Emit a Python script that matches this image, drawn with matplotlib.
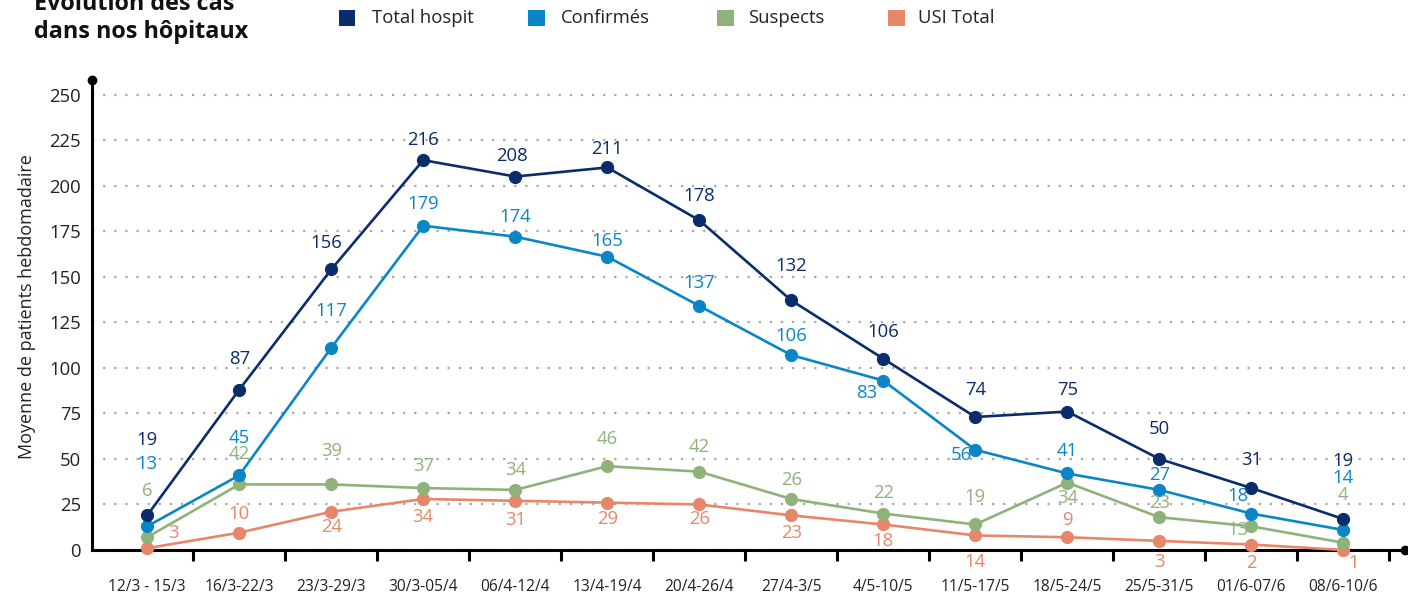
import matplotlib
matplotlib.use("Agg")
import matplotlib.pyplot as plt
from matplotlib.patches import Rectangle

plt.rcParams['font.family'] = ['Open Sans', 'DejaVu Sans']

weeks = ["12/3 - 15/3", "16/3-22/3", "23/3-29/3", "30/3-05/4", "06/4-12/4",
         "13/4-19/4", "20/4-26/4", "27/4-3/5", "4/5-10/5", "11/5-17/5",
         "18/5-24/5", "25/5-31/5", "01/6-07/6", "08/6-10/6"]

# plotted point heights (as drawn in the chart)
total_pts = [19, 88, 154, 214, 205, 210, 181, 137, 105, 73, 76, 50, 34, 17]
conf_pts = [13, 41, 111, 178, 172, 161, 134, 107, 93, 55, 42, 33, 20, 11]
susp_pts = [7, 36, 36, 34, 33, 46, 43, 28, 20, 14, 37, 18, 13, 4]
usi_pts = [1, 9.5, 21, 28, 27, 26, 25, 19, 14, 8, 7, 5, 3, 0]

# printed value labels
total_lbl = [19, 87, 156, 216, 208, 211, 178, 132, 106, 74, 75, 50, 31, 19]
conf_lbl = [13, 45, 117, 179, 174, 165, 137, 106, 83, 56, 41, 27, 18, 14]
susp_lbl = [6, 42, 39, 37, 34, 46, 42, 26, 22, 19, 34, 23, 13, 4]
usi_lbl = [3, 10, 24, 34, 31, 29, 26, 23, 18, 14, 9, 3, 2, 1]

# label offsets in pixels (label placement only)
total_off = [(0, 75), (0, 31), (-5, 26), (0, 20), (-3, 21), (0, 18), (0, 24),
             (0, 34), (0, 27), (0, 27), (0, 22), (0, 30), (0, 28), (0, 58)]
conf_off = [(0, 62), (0, 37), (0, 37), (0, 22), (0, 20), (0, 16), (0, 23),
            (0, 19), (-17, -12), (-14, -5), (0, 22), (0, 15), (-13, 18), (0, 52)]
susp_off = [(0, 46), (0, 30), (0, 33), (0, 22), (0, 20), (0, 27), (0, 25),
            (0, 19), (0, 21), (0, 27), (0, -15), (0, 14), (-13, -4), (0, 48)]
usi_off = [(26, 15), (0, 19), (0, -15), (0, -18), (0, -19), (0, -16), (0, -15),
           (0, -18), (0, -17), (0, -27), (0, 17), (0, -21), (0, -18), (10, -13)]

c_total = "#0b2c6b"
c_conf = "#0a86c8"
c_susp = "#8fb27a"
c_usi = "#e8866a"

W, H = 1408, 602
fig = plt.figure(figsize=(W / 100, H / 100), dpi=100)
ax = fig.add_axes([92 / W, 52 / H, 1313 / W, 470 / H])

x = list(range(len(weeks)))
series = [
    ("USI Total", usi_pts, usi_lbl, usi_off, c_usi),
    ("Suspects", susp_pts, susp_lbl, susp_off, c_susp),
    ("Confirmés", conf_pts, conf_lbl, conf_off, c_conf),
    ("Total hospit", total_pts, total_lbl, total_off, c_total),
]
for i, (name, pts, lbl, off, col) in enumerate(series):
    ax.plot(x, pts, '-o', color=col, lw=1.9, ms=8.5, zorder=4 + i, clip_on=False)
    for xi, yi, t, o in zip(x, pts, lbl, off):
        ax.annotate(str(t), (xi, yi), xytext=o, textcoords='offset pixels',
                    ha='center', va='center', color=col, fontsize=13.3, zorder=10)

ax.set_xlim(-0.6, 13.67)
ax.set_ylim(0, 258)
ax.set_yticks(range(0, 251, 25))
ax.tick_params(axis='y', length=0, labelsize=13.3, colors='#222222', pad=8)

ax.set_xticks([i + 0.5 for i in range(len(weeks))])
ax.set_xticklabels([])
ax.set_xticks(x, minor=True)
ax.set_xticklabels(weeks, minor=True, fontsize=11.2, color='#222222')
ax.tick_params(axis='x', which='major', length=8, width=2.2, direction='out')
ax.tick_params(axis='x', which='minor', length=0, pad=21)

ax.yaxis.grid(True, linestyle=(0, (1, 4)), color='#a8a8a8', lw=1.6)
ax.set_axisbelow(True)

for s in ['top', 'right']:
    ax.spines[s].set_visible(False)
for s in ['left', 'bottom']:
    ax.spines[s].set_linewidth(2.2)
    ax.spines[s].set_color('black')
ax.plot(0, 1, 'o', color='black', ms=6, transform=ax.transAxes, clip_on=False)
ax.plot(1, 0, 'o', color='black', ms=6, transform=ax.transAxes, clip_on=False)

ax.set_ylabel("Moyenne de patients hebdomadaire", fontsize=13, color='#222222')
ax.yaxis.set_label_coords(-0.0425, 0.517)

# title (first line sits partly above the top edge, as in the original)
fig.text(34 / W, 1 - 10 / H, "Évolution des cas", fontsize=16.8,
         fontweight='bold', color='#111111', va='baseline')
fig.text(34 / W, 1 - 38 / H, "dans nos hôpitaux", fontsize=16.8,
         fontweight='bold', color='#111111', va='baseline')

# legend
legend_items = [("Total hospit", c_total, 339, 372), ("Confirmés", c_conf, 528, 561),
                ("Suspects", c_susp, 717, 748), ("USI Total", c_usi, 888, 918)]
for name, col, sx, tx in legend_items:
    fig.add_artist(Rectangle((sx / W, 1 - 26 / H), 16.5 / W, 16.5 / H,
                             transform=fig.transFigure, color=col, lw=0))
    fig.text(tx / W, 1 - 18 / H, name, fontsize=13.3, color='#222222',
             va='center', ha='left')

fig.savefig("out.png", dpi=100)
